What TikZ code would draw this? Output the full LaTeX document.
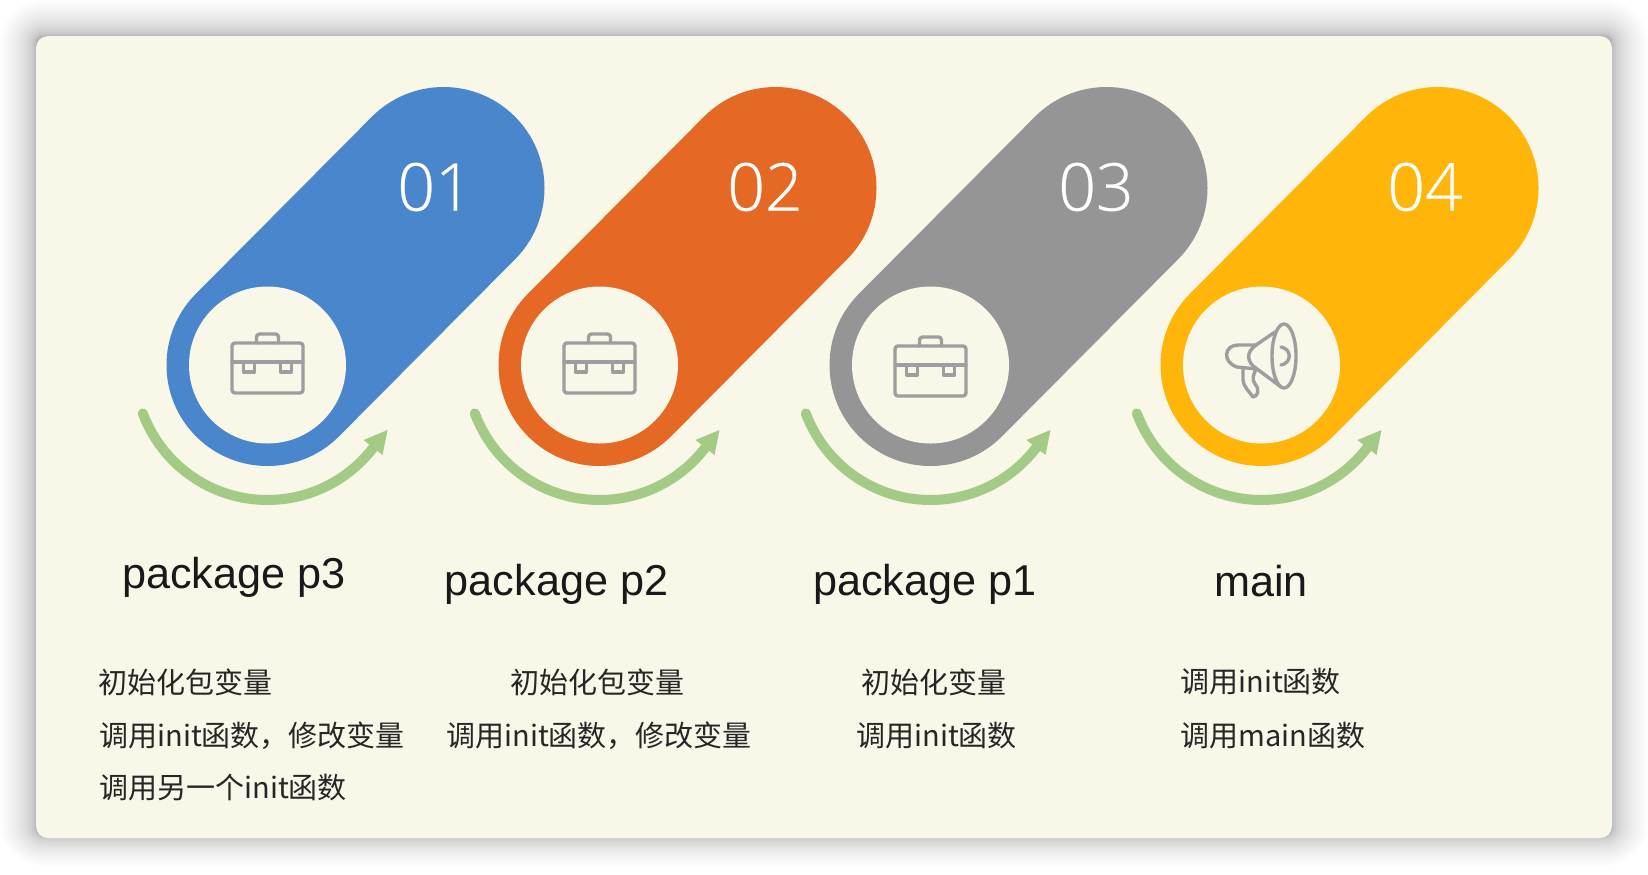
\documentclass[tikz,border=0pt]{standalone}
\usepackage{fontspec}
\setmainfont{Noto Sans CJK SC}
\newfontfamily\numfont[UprightFont=* Light,UprightFeatures={FakeBold=0.4}]{Open Sans}
\newfontfamily\titlefont{Liberation Sans}
\definecolor{panelc}{HTML}{F9F7E8}
\definecolor{bluec}{HTML}{4A86CB}
\definecolor{orangec}{HTML}{E56824}
\definecolor{grayc}{HTML}{959595}
\definecolor{yellowc}{HTML}{FFB50A}
\definecolor{greenc}{HTML}{A3CB85}
\definecolor{iconc}{HTML}{9E9E9E}
\definecolor{textc}{HTML}{262626}
\newcommand{\fwc}{\char"FF0C\relax}
\tikzset{
  x=0.5pt,y=-0.5pt,
  capsule/.style={line width=101pt,line cap=round},
  hole/.style={fill=panelc,draw=none},
  sweep/.style={draw=greenc,line width=5pt,line cap=round},
  icon/.style={draw=iconc,line width=1.7pt,line join=round,line cap=round},
  num/.style={text=white,font=\numfont\fontsize{33}{36}\selectfont},
  title/.style={text=black!90,font=\titlefont\fontsize{21.6}{26}\selectfont},
  body/.style={text=textc,anchor=west,font=\fontsize{14.5}{18}\selectfont,inner sep=0pt},
}
\newcommand{\stage}[5]{% cx, colour, number, node id, number x
  \coordinate (low#4) at (#1,365);
  \coordinate (up#4) at (#1+176,188);
  \draw[capsule,draw=#2] (low#4) -- (up#4);
  \fill[hole] (low#4) circle[radius=78.5];
  \node[num] (num#4) at (#5,187) {#3};
  \draw[sweep] plot[domain=159.6:37.6,samples=50] ({#1+133*cos(\x)},{367+133*sin(\x)});
  \fill[greenc] (#1+120,430) -- (#1+96,440) -- (#1+115,455) -- cycle;
}
\newcommand{\brief}[2]{% cx, cy
  \begin{scope}[shift={(#1,#2)}]
    \draw[icon,rounded corners=1.5pt] (-35.5,-22) rectangle (35.5,28);
    \draw[icon] (-35.5,-3) -- (35.5,-3);
    \draw[icon,rounded corners=1.5pt] (-11,-22) -- (-11,-31) -- (11,-31) -- (11,-22);
    \draw[icon] (-24,-3) -- (-24,7) -- (-13,7) -- (-13,-3);
    \draw[icon] (13,-3) -- (13,7) -- (24,7) -- (24,-3);
  \end{scope}
}
\begin{document}
\begin{tikzpicture}
\useasboundingbox (0,0) rectangle (1648,874);
\fill[white] (0,0) rectangle (1648,874);
\foreach \i in {1,...,26}{
  \pgfmathsetmacro{\e}{36*(\i/26)^2.2}
  \fill[black,opacity=0.011,rounded corners={(\e+8)*0.5pt}] ({36-\e},{36-\e}) rectangle ({1612+\e},{838-3+\e*0.85});
}
\fill[panelc,rounded corners=6pt] (36,36) rectangle (1612,838);

\stage{267.5}{bluec}{01}{a}{435}
\stage{599.5}{orangec}{02}{b}{765}
\stage{930.5}{grayc}{03}{c}{1096}
\stage{1261.5}{yellowc}{04}{d}{1425}

\brief{267.5}{365}
\brief{599.5}{365}
\brief{930.5}{368}

% megaphone
\draw[icon] (1284,356) ellipse[x radius=12,y radius=32];
\draw[icon] (1275,332) -- (1256,345) .. controls (1246,352) and (1246,362) .. (1257,369) -- (1281,387);
\draw[icon] (1256,345) -- (1238,345) .. controls (1224,345) and (1222,362) .. (1237,367) -- (1257,369);
\draw[icon] (1243,369) -- (1243,380) .. controls (1244,388) and (1250,392) .. (1253,397) .. controls (1258,396) and (1260,390) .. (1255,384) .. controls (1251,379) and (1254,374) .. (1256,369);
\draw[icon] (1281,347) .. controls (1292,349) and (1292,363) .. (1281,365);

\node[title] (t1) at (234,577) {package p3};
\node[title] (t2) at (556.5,584) {package p2};
\node[title] (t3) at (925,584) {package p1};
\node[title] (t4) at (1261,581) {main};

\node[body] (a1) at (98,682) {初始化包变量};
\node[body] (a2) at (99,736) {调用init函数\fwc 修改变量};
\node[body] (a3) at (99,788) {调用另一个init函数};
\node[body] (b1) at (510,682) {初始化包变量};
\node[body] (b2) at (446,736) {调用init函数\fwc 修改变量};
\node[body] (c1) at (861,682) {初始化变量};
\node[body] (c2) at (856,736) {调用init函数};
\node[body] (d1) at (1180,682) {调用init函数};
\node[body] (d2) at (1180,736) {调用main函数};
\end{tikzpicture}
\end{document}
